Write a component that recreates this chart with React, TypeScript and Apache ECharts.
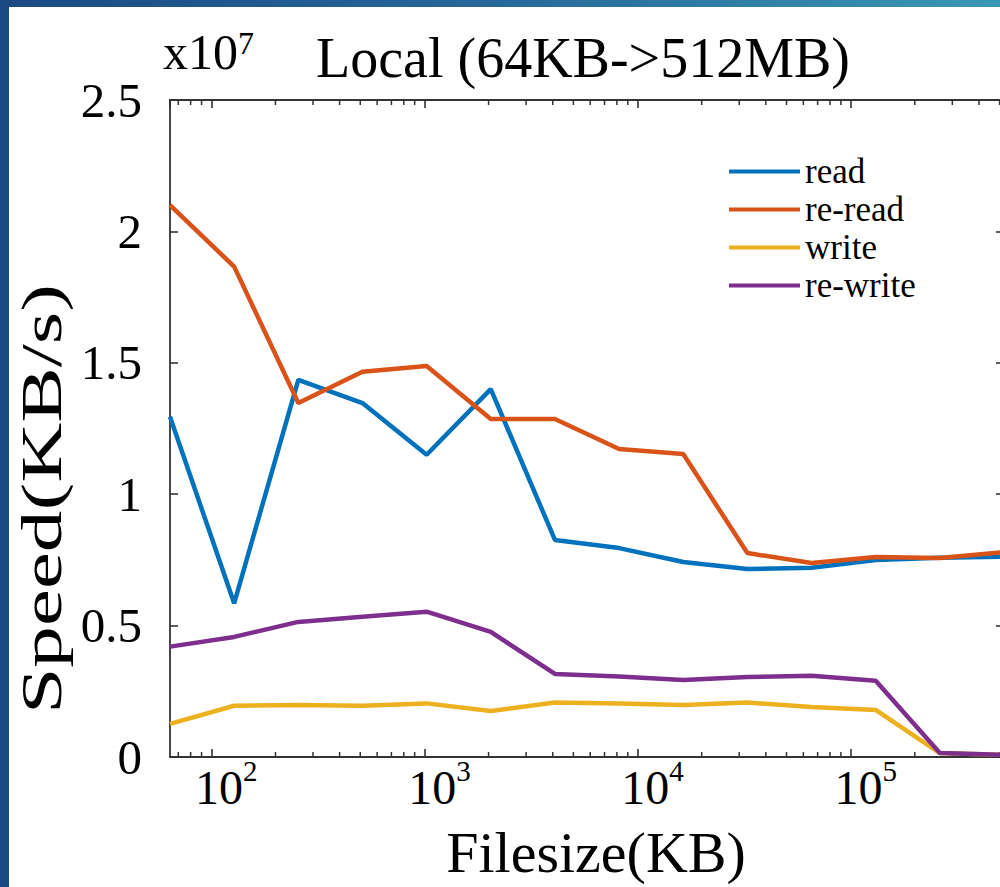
import React, { useEffect, useRef } from 'react';
import * as echarts from 'echarts';

const fileSizesKB = [64, 128, 256, 512, 1024, 2048, 4096, 8192, 16384, 32768, 65536, 131072, 262144, 524288];
// speeds in units of 10^7 KB/s
const readSpeed = [1.295, 0.585, 1.435, 1.347, 1.15, 1.4, 0.826, 0.795, 0.742, 0.715, 0.72, 0.75, 0.758, 0.762];
const rereadSpeed = [2.1, 1.866, 1.347, 1.466, 1.488, 1.286, 1.286, 1.172, 1.153, 0.776, 0.738, 0.761, 0.757, 0.78];
const writeSpeed = [0.126, 0.195, 0.198, 0.195, 0.204, 0.175, 0.207, 0.204, 0.198, 0.207, 0.19, 0.179, 0.015, 0.008];
const rewriteSpeed = [0.42, 0.457, 0.514, 0.534, 0.553, 0.476, 0.316, 0.306, 0.293, 0.304, 0.309, 0.29, 0.015, 0.008];

const seriesNames = ['read', 're-read', 'write', 're-write'];
const seriesColors = ['#0072BD', '#D95319', '#EDB120', '#7E2F8E'];
const seriesValues = [readSpeed, rereadSpeed, writeSpeed, rewriteSpeed];

const titleText = 'Local (64KB->512MB)';
const xName = 'Filesize(KB)';
const yName = 'Speed(KB/s)';
const decades = [10, 100, 1000, 10000, 100000];
const minorMultipliers = [2, 3, 4, 5, 6, 7, 8, 9];

const X_MIN = fileSizesKB[0];
const X_MAX = fileSizesKB[fileSizesKB.length - 1];
const minorTicks: number[] = [];
decades.forEach((d) =>
  minorMultipliers.forEach((m) => {
    const v = d * m;
    if (v > X_MIN && v < X_MAX) minorTicks.push(v);
  })
);

const FONT = "'Liberation Serif', 'Times New Roman', serif";
const AXIS_COLOR = '#333333';

export default function App() {
  const ref = useRef<HTMLDivElement>(null);

  useEffect(() => {
    if (!ref.current) return;
    const chart = echarts.init(ref.current, null, { renderer: 'svg' });

    const xLabelFormatter = (v: number) => {
      const e = Math.log10(v);
      const r = Math.round(e);
      if (Math.abs(e - r) > 1e-6) return '';
      return `{b|10}{s|${r}}`;
    };

    const commonX = {
      type: 'log',
      logBase: 10,
      min: X_MIN,
      max: X_MAX,
      axisLine: { show: true, onZero: false, lineStyle: { color: AXIS_COLOR, width: 1.8 } },
      axisTick: { show: true, inside: true, length: 8, lineStyle: { color: AXIS_COLOR, width: 1.6 } },
      splitLine: { show: false },
      minorTick: { show: false },
    };

    const commonY = {
      type: 'value',
      min: 0,
      max: 2.5,
      interval: 0.5,
      axisLine: { show: true, onZero: false, lineStyle: { color: AXIS_COLOR, width: 1.8 } },
      axisTick: { show: true, inside: true, length: 8, lineStyle: { color: AXIS_COLOR, width: 1.6 } },
      splitLine: { show: false },
    };

    chart.setOption({
      animation: false,
      backgroundColor: '#ffffff',
      title: {
        text: titleText,
        left: 307,
        top: 23,
        padding: 0,
        textStyle: { fontFamily: FONT, fontSize: 56, fontWeight: 'normal', color: '#000' },
      },
      grid: {
        left: 161,
        top: 93,
        width: 834,
        height: 657,
        containLabel: false,
        outerBoundsMode: 'none',
      },
      legend: {
        data: seriesNames,
        orient: 'vertical',
        left: 720,
        top: 147,
        itemWidth: 71,
        itemHeight: 4,
        itemGap: 3,
        icon: 'rect',
        padding: 0,
        textStyle: { fontFamily: FONT, fontSize: 35, color: '#000' },
      },
      xAxis: [
        {
          ...commonX,
          position: 'bottom',
          name: xName,
          nameLocation: 'middle',
          nameGap: 66,
          nameMoveOverlap: false,
          nameTextStyle: { fontFamily: FONT, fontSize: 58, color: '#000', padding: [0, 0, 0, 18] },
          axisLabel: {
            show: true,
            margin: -8,
            showMinLabel: false,
            showMaxLabel: false,
            padding: [0, 0, 0, 30],
            formatter: xLabelFormatter,
            rich: {
              b: { fontFamily: FONT, fontSize: 48, lineHeight: 62, verticalAlign: 'bottom', color: '#000' },
              s: {
                fontFamily: FONT,
                fontSize: 29,
                lineHeight: 29,
                verticalAlign: 'top',
                padding: [7, 0, 0, 0],
                color: '#000',
              },
            },
          },
        },
        { ...commonX, position: 'top', axisLabel: { show: false } },
      ],
      yAxis: [
        {
          ...commonY,
          position: 'left',
          axisLabel: { show: true, margin: 28, fontFamily: FONT, fontSize: 49, color: '#000' },
        },
        { ...commonY, position: 'right', axisLabel: { show: false } },
      ],
      graphic: [
        {
          type: 'text',
          x: 154,
          y: 45,
          style: {
            text: '{a|x10}{b|7}',
            align: 'left',
            verticalAlign: 'middle',
            rich: {
              a: { fontFamily: FONT, fontSize: 50, lineHeight: 50, verticalAlign: 'bottom', fill: '#000' },
              b: { fontFamily: FONT, fontSize: 32, lineHeight: 32, verticalAlign: 'top', fill: '#000' },
            },
          },
        },
        {
          type: 'text',
          x: 32,
          y: 492,
          rotation: Math.PI / 2,
          scaleX: 1.46,
          style: {
            text: yName,
            fontFamily: FONT,
            fontSize: 57,
            fill: '#000',
            align: 'center',
            verticalAlign: 'middle',
          },
        },
      ],
      series: [
        ...seriesNames.map((name, i) => ({
          name,
          type: 'line',
          xAxisIndex: 0,
          yAxisIndex: 0,
          data: fileSizesKB.map((s, j) => [s, seriesValues[i][j]]),
          showSymbol: false,
          symbol: 'none',
          color: seriesColors[i],
          lineStyle: { color: seriesColors[i], width: 4.5 },
          z: 3 + i,
        })),
        {
          name: 'minor-ticks',
          type: 'custom',
          xAxisIndex: 0,
          yAxisIndex: 0,
          silent: true,
          data: minorTicks.map((v) => [v, 0]),
          encode: { x: 0, y: 1 },
          renderItem: (params: any, api: any) => {
            const x = api.coord([api.value(0), 0])[0];
            const cs = params.coordSys;
            const bottom = cs.y + cs.height;
            const st = { stroke: AXIS_COLOR, lineWidth: 1.5 };
            return {
              type: 'group',
              children: [
                { type: 'line', shape: { x1: x, y1: bottom, x2: x, y2: bottom - 5 }, style: st },
                { type: 'line', shape: { x1: x, y1: cs.y, x2: x, y2: cs.y + 5 }, style: st },
              ],
            };
          },
          z: 2,
        },
      ],
    } as any);

    return () => chart.dispose();
  }, []);

  return (
    <div
      style={{
        position: 'fixed',
        left: 0,
        top: 0,
        width: 1000,
        height: 887,
        overflow: 'hidden',
        background: 'linear-gradient(90deg, #1b4a82 0%, #27689a 50%, #3a98b2 100%)',
      }}
    >
      <div style={{ position: 'absolute', left: 9, top: 7, width: 1020, height: 880, background: '#ffffff' }}>
        <div ref={ref} style={{ width: 1020, height: 880 }} />
      </div>
    </div>
  );
}
